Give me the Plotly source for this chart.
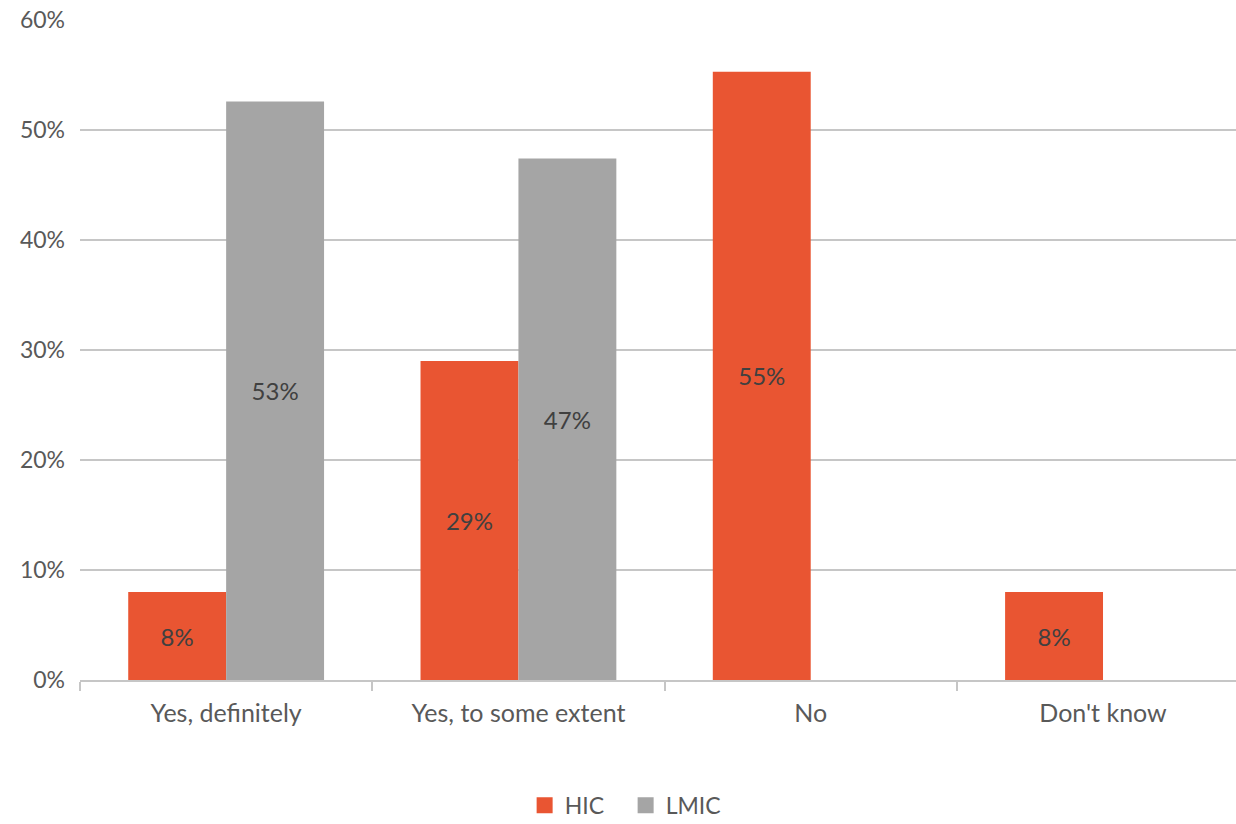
import plotly.graph_objects as go

# Survey responses by country income group
categories = ["Yes, definitely", "Yes, to some extent", "No", "Don't know"]
hic_values = [0.08, 0.29, 0.553, 0.08]
lmic_values = [0.526, 0.474, None, None]
y_ticks = [0, 0.1, 0.2, 0.3, 0.4, 0.5, 0.6]

HIC_COLOR = "#E95532"
LMIC_COLOR = "#A5A5A5"
FONT = "Lato, 'Open Sans', sans-serif"

fig = go.Figure()

for name, vals, color in [("HIC", hic_values, HIC_COLOR), ("LMIC", lmic_values, LMIC_COLOR)]:
    fig.add_trace(go.Bar(
        x=categories, y=vals, name=name,
        marker=dict(color=color, line=dict(width=0)),
        texttemplate="%{y:.0%}", textposition="inside",
        insidetextanchor="middle",
        textfont=dict(family=FONT, size=24, color="#404040"),
        showlegend=False, hoverinfo="skip",
    ))

# Legend entries with larger square swatches
for name, color in [("HIC", HIC_COLOR), ("LMIC", LMIC_COLOR)]:
    fig.add_trace(go.Scatter(
        x=[None], y=[None], mode="markers", name=name,
        marker=dict(symbol="square", size=16, color=color),
    ))

fig.update_layout(
    width=1236, height=824,
    margin=dict(l=80, r=0, t=20, b=144, autoexpand=False),
    paper_bgcolor="white", plot_bgcolor="white",
    barmode="group", bargap=0.33, bargroupgap=0,
    font=dict(family=FONT, size=23, color="#595959"),
    legend=dict(orientation="h", x=0.472, xanchor="center",
                y=-0.19, yanchor="middle",
                font=dict(size=23, color="#595959"), itemwidth=30,
                entrywidth=56, traceorder="normal"),
)

fig.update_xaxes(
    range=[-0.5, 3.455], type="category",
    showline=True, linecolor="#C6C6C6", linewidth=2,
    ticks="outside", tickson="boundaries", ticklen=9, tickcolor="#C6C6C6", tickwidth=2,
    ticklabelstandoff=10, showgrid=False,
    tickfont=dict(family=FONT, size=25, color="#595959"),
)
fig.update_yaxes(
    range=[0, 0.6], tickvals=y_ticks, tickformat=".0%",
    showgrid=True, gridcolor="#C6C6C6", gridwidth=2,
    zeroline=False, showline=False, ticks="",
    ticklabelstandoff=14,
    tickfont=dict(family=FONT, size=23, color="#595959"),
)

fig.write_html("out.html")
